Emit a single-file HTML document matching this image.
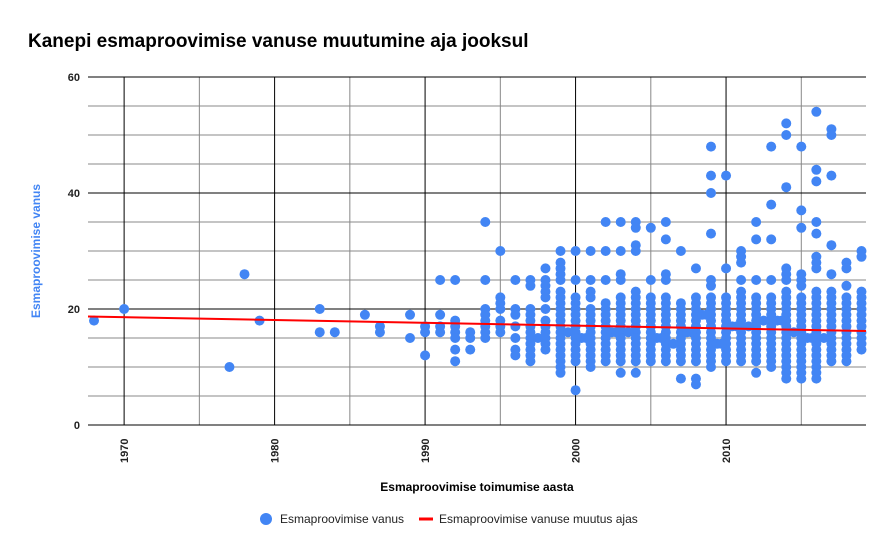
<!DOCTYPE html>
<html><head><meta charset="utf-8">
<style>
body{margin:0;background:#fff;font-family:"Liberation Sans",Arial,sans-serif;}
#c{position:relative;width:895px;height:554px;overflow:hidden;}
</style></head>
<body>
<div id="c">
<svg id="svg" width="895" height="554" xmlns="http://www.w3.org/2000/svg">
<text x="28" y="47" font-size="19" font-weight="bold" fill="#000">Kanepi esmaproovimise vanuse muutumine aja jooksul</text>
<text transform="translate(40,251) rotate(-90)" text-anchor="middle" font-size="12" font-weight="bold" fill="#4285f4">Esmaproovimise vanus</text>
<text x="477" y="491" text-anchor="middle" font-size="12" font-weight="bold" fill="#000">Esmaproovimise toimumise aasta</text>
<g id="grid"></g>
<g id="ticks"></g>
<g id="dots"></g>
<g id="trend"></g>
<g>
<g><circle cx="266" cy="519" r="6" fill="#4285f4"/><text x="280" y="523" font-size="12" fill="#222">Esmaproovimise vanus</text></g>
<g><line x1="419" y1="519" x2="433" y2="519" stroke="#f00" stroke-width="3"/><text x="439" y="523" font-size="12" fill="#222">Esmaproovimise vanuse muutus ajas</text></g>
</g>
</svg>
</div>
<script>
const yTicks=[0,20,40,60];
const xTicks=[1970,1980,1990,2000,2010];
const years=[1968,1970,1977,1978,1979,1983,1984,1986,1987,1989,1990,1991,1992,1993,1994,1995,1996,1997,1998,1999,2000,2001,2002,2003,2004,2005,2006,2007,2008,2009,2010,2011,2012,2013,2014,2015,2016,2017,2018,2019,
1997.5,1999.5,2000.4,2000.7,2002.4,2002.7,2003.5,2005.4,2005.7,2006.5,2007.4,2007.7,2008.4,2008.7,2009.4,2009.7,2010.4,2010.7,2011.5,2012.5,2013.4,2013.7,2014.5,2015.4,2015.7,2016.5];
const agesByYear=[[18],[20],[10],[26],[18],[20,16],[16],[19],[17,16],[19,15],[17,16,12],[25,19,17,16],[25,18,17,16,15,13,11],[16,15,13],
[35,25,20,19,18,17,16,15],[30,22,21,20,18,17,16],[25,20,19,17,15,13,12],[25,24,20,19,18,17,16,15,14,13,12,11],[27,25,24,23,22,20,18,17,16,15,14,13],
[30,28,27,26,25,23,22,21,20,19,18,17,16,15,14,13,12,11,10,9],[30,25,22,21,20,19,18,17,16,15,14,13,12,11,6],[30,25,23,22,20,19,18,17,16,15,14,13,12,11,10],
[35,30,25,21,20,19,18,17,16,15,14,13,12,11],[35,30,26,25,22,21,20,19,18,17,16,15,14,13,12,11,9],[35,34,31,30,23,22,21,20,19,18,17,16,15,14,13,12,11,9],
[34,25,22,21,20,19,18,17,16,15,14,13,12,11],[35,32,26,25,22,21,20,19,18,17,16,15,14,13,12,11],[30,21,20,19,18,17,16,15,14,13,12,11,8],
[27,22,21,20,19,18,17,16,15,14,13,12,11,8,7],[48,43,40,33,25,24,22,21,20,19,18,17,16,15,14,13,12,11,10],[43,27,22,21,20,19,18,17,16,15,14,13,12,11],
[30,29,28,25,23,22,21,20,19,18,17,16,15,14,13,12,11],[35,32,25,22,21,20,19,18,17,16,15,14,13,12,11,9],[48,38,32,25,22,21,20,19,18,17,16,15,14,13,12,11,10],
[52,50,41,27,26,25,23,22,21,20,19,18,17,16,15,14,13,12,11,10,9,8],[48,37,34,26,25,24,22,21,20,19,18,17,16,15,14,13,12,11,10,9,8],
[54,44,42,35,33,29,28,27,23,22,21,20,19,18,17,16,15,14,13,12,11,10,9,8],[51,50,43,31,26,23,22,21,20,19,18,17,16,15,14,13,12,11],
[28,27,24,22,21,20,19,18,17,16,15,14,13,12,11],[30,29,23,22,21,20,19,18,17,16,15,14,13],
[15],[16],[15],[15],[16],[16],[16],[15],[15],[14],[16],[16],[19],[19],[14],[14],[17],[17],[17],[18],[18],[18],[16],[15],[15],[15]];
const trendYears=[1967.6,2019.3];
const trendAges=[18.7,16.2];

const X0=88,X1=866,Y0=425,Y1=77,XMIN=1967.6,XMAX=2019.3,YMIN=0,YMAX=60;
const sx=v=>X0+(v-XMIN)/(XMAX-XMIN)*(X1-X0);
const sy=v=>Y0-(v-YMIN)/(YMAX-YMIN)*(Y0-Y1);
const NS='http://www.w3.org/2000/svg';
function mk(tag,attrs,parent){const e=document.createElementNS(NS,tag);for(const k in attrs)e.setAttribute(k,attrs[k]);parent.appendChild(e);return e;}
const grid=document.getElementById('grid'),ticks=document.getElementById('ticks');
for(let v=5;v<60;v+=5){if(v%20===0)continue;
 const l=mk('line',{x1:X0,x2:X1,y1:sy(v),y2:sy(v),stroke:'#888','stroke-width':1},grid);
 
 }
for(let v=1975;v<2020;v+=10){
 const l=mk('line',{x1:sx(v),x2:sx(v),y1:Y1,y2:Y0,stroke:'#888','stroke-width':1},grid);
 
 }
xTicks.forEach(v=>{
 const l=mk('line',{x1:sx(v),x2:sx(v),y1:Y1,y2:Y0,stroke:'#000','stroke-width':1},grid);
 
 
 const t=mk('text',{transform:`translate(${sx(v)+4},${Y0+38}) rotate(-90)`,'font-size':11,'font-weight':'bold',fill:'#222'},ticks);
 t.textContent=v;
 
 });
yTicks.forEach(v=>{
 const l=mk('line',{x1:X0,x2:X1,y1:sy(v),y2:sy(v),stroke:'#000','stroke-width':1},grid);
 
 
 const t=mk('text',{x:80,y:sy(v)+4,'text-anchor':'end','font-size':11,'font-weight':'bold',fill:'#222'},ticks);
 t.textContent=v;
 
 });
const dots=document.getElementById('dots');
years.forEach((yr,i)=>{agesByYear[i].forEach(a=>{
 const c=mk('circle',{cx:sx(yr),cy:sy(a),r:5,fill:'#4285f4'},dots);
 
 });});
const tl=mk('line',{x1:sx(trendYears[0]),y1:sy(trendAges[0]),x2:sx(trendYears[1]),y2:sy(trendAges[1]),stroke:'#f00','stroke-width':2},document.getElementById('trend'));


</script>
</body></html>
